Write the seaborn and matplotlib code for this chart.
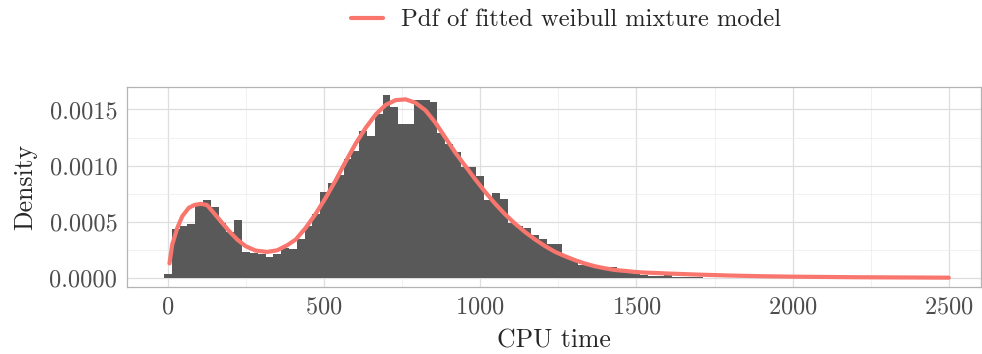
#!/usr/bin/env python3
"""
Histogram of CPU time with the pdf of a fitted weibull mixture model.
"""

import matplotlib
matplotlib.use('Agg')
import matplotlib.pyplot as plt
import seaborn as sns
import pandas as pd
from matplotlib.ticker import MultipleLocator, FuncFormatter

# Histogram bins (centre of each 25-wide bin) and density
bin_centers = list(range(0, 1725, 25))
bin_density = [
    0.00004, 0.00044, 0.00046, 0.00048, 0.00066, 0.000695, 0.00063, 0.00049,
    0.00041, 0.00052, 0.00023, 0.00022, 0.00021, 0.00019, 0.00021, 0.000265,
    0.00026, 0.00035, 0.00046, 0.00057, 0.000765, 0.000845, 0.00092, 0.00106,
    0.00113, 0.00131, 0.00126, 0.00146, 0.00163, 0.00152, 0.00137, 0.00137,
    0.00158, 0.00158, 0.00157, 0.00129, 0.00119, 0.001125, 0.00099, 0.00099,
    0.000905, 0.00069, 0.00076, 0.000705, 0.00049, 0.00046, 0.000445, 0.00038,
    0.00035, 0.0003, 0.0003, 0.00019, 0.000165, 0.00012, 0.000105, 0.00009,
    0.000095, 0.000095, 0.000065, 0.00005, 0.00004, 0.00003, 0.00002, 0.00002,
    0.00005, 0.00001, 0.00001, 0.000005, 0.000005,
]
bin_width = 25

# Fitted mixture pdf
pdf_x = [5, 14, 30, 46, 67, 85, 105, 125, 142, 169, 196, 222, 249, 281, 318,
         350, 382, 409, 441, 473, 505, 537, 569, 601, 634, 666, 697, 729, 761,
         792, 824, 856, 888, 920, 952, 984, 1016, 1048, 1080, 1112, 1144, 1176,
         1208, 1240, 1272, 1304, 1336, 1368, 1400, 1432, 1464, 1496, 1528, 1560,
         1600, 1700, 1800, 1900, 2000, 2200, 2500]
pdf_y = [0.00013, 0.0003, 0.000445, 0.00055, 0.000625, 0.00065, 0.00066,
         0.00065, 0.000595, 0.000506, 0.000417, 0.000342, 0.000283, 0.000244,
         0.000232, 0.000247, 0.000292, 0.000342, 0.000446, 0.000571, 0.000714,
         0.000869, 0.001036, 0.001196, 0.00134, 0.001458, 0.00154, 0.001583,
         0.00159, 0.00156, 0.001494, 0.001384, 0.00125, 0.001116, 0.000997,
         0.000878, 0.000765, 0.00066, 0.000565, 0.000482, 0.000408, 0.000342,
         0.000283, 0.000232, 0.000193, 0.000158, 0.000128, 0.000104, 0.000086,
         0.000071, 0.000063, 0.000054, 0.000048, 0.000045, 0.00004, 0.00003,
         0.000022, 0.000016, 0.000012, 0.000007, 0.000003]

legend_label = 'Pdf of fitted weibull mixture model'


def create_plot():
    sns.set_style('white')
    plt.rcParams['font.family'] = ['cmr10', 'DejaVu Serif']
    plt.rcParams['mathtext.fontset'] = 'cm'
    plt.rcParams['axes.formatter.use_mathtext'] = True

    fig = plt.figure(figsize=(9.82, 3.54), dpi=100)
    ax = fig.add_axes([127 / 982, 1 - 287 / 354, 854 / 982, 200 / 354])

    hist_df = pd.DataFrame({'cpu': bin_centers, 'density': bin_density})
    sns.histplot(data=hist_df, x='cpu', weights='density', binwidth=bin_width,
                 binrange=(-bin_width / 2, bin_centers[-1] + bin_width / 2),
                 stat='count', color='#595959', alpha=1, linewidth=0,
                 ax=ax, zorder=2)
    sns.lineplot(x=pdf_x, y=pdf_y, color='#F8766D', linewidth=3.0,
                 label=legend_label, ax=ax, zorder=3)

    ax.set_xlim(-131, 2603)
    ax.set_ylim(-0.00008, 0.0017)

    # gridlines like ggplot theme_light
    ax.xaxis.set_major_locator(MultipleLocator(500))
    ax.xaxis.set_minor_locator(MultipleLocator(250))
    ax.yaxis.set_major_locator(MultipleLocator(0.0005))
    ax.yaxis.set_minor_locator(MultipleLocator(0.00025))
    ax.yaxis.set_major_formatter(FuncFormatter(lambda v, p: f'{v:.4f}'))
    ax.grid(True, which='major', color='#DEDEDE', linewidth=0.9, zorder=0)
    ax.grid(True, which='minor', color='#EBEBEB', linewidth=0.5, zorder=0)
    ax.set_axisbelow(True)

    for spine in ax.spines.values():
        spine.set_edgecolor('#B3B3B3')
        spine.set_linewidth(0.9)
    ax.tick_params(axis='both', which='major', direction='out', length=4,
                   width=0.8, color='#B3B3B3', labelsize=17.5,
                   labelcolor='#4D4D4D', pad=3)
    ax.tick_params(axis='both', which='minor', length=0)

    ax.set_xlabel('CPU time', fontsize=18.5, labelpad=7)
    ax.set_ylabel('Density', fontsize=18.5, labelpad=9)

    # legend on top of the figure
    handles, labels = ax.get_legend_handles_labels()
    ax.get_legend().remove()
    fig.legend(handles, labels, loc='center', bbox_to_anchor=(566 / 982, 1 - 20 / 354),
               frameon=False, fontsize=17.7, handlelength=1.3, handletextpad=0.75)

    fig.savefig('out.png', dpi=100, facecolor='white')


if __name__ == "__main__":
    create_plot()
